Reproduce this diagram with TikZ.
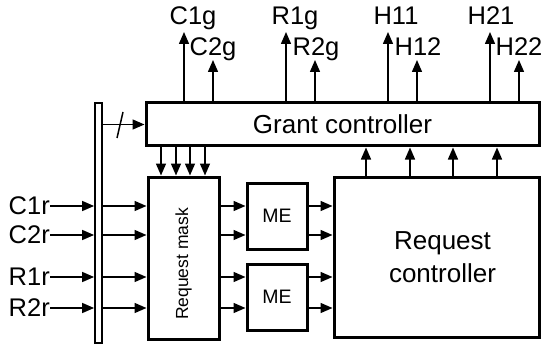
\documentclass[tikz,border=0pt]{standalone}
\usepackage{fontspec}
\setmainfont{Liberation Sans}
\usepackage{graphicx}
\usetikzlibrary{arrows.meta,calc}
\begin{document}
\begin{tikzpicture}[x=1pt,y=-1pt,
  box/.style={draw,line width=3pt,inner sep=0pt},
  arr/.style={line width=1.5pt,-{Triangle[length=12pt,width=10pt]}},
  big/.style={font=\fontsize{26}{33}\selectfont},
  lab/.style={font=\fontsize{25.5}{28}\selectfont,inner sep=0pt},
  small/.style={font=\fontsize{17.5}{20}\selectfont},
  metext/.style={font=\fontsize{19.5}{22}\selectfont}]
\useasboundingbox (0,0) rectangle (546,350);

% boxes
\node[box,minimum width=393pt,minimum height=43pt,big] (grant) at (342.5,124.5) {Grant controller};
\node[box,minimum width=71pt,minimum height=162pt,
      label={[small,inner sep=0pt]center:\rotatebox{90}{Request mask\hspace{12pt}}}] (mask) at (183.5,258) {};
\node[box,minimum width=60pt,minimum height=66pt,metext] (me1) at (277,216) {ME};
\node[box,minimum width=60pt,minimum height=66pt,metext] (me2) at (277,297) {ME};
\node[box,minimum width=205pt,minimum height=160pt,
      label={[big,align=center,xshift=6pt]center:Request\\controller}] (req) at (436.5,257) {};
\node[draw,line width=1.8pt,minimum width=7pt,minimum height=240pt,inner sep=0pt] (bus) at (98.5,223) {};

% output arrows and labels
\foreach \name/\x/\y/\lx/\ly in {C1g/184/32/193/25, C2g/213/60/213/56,
                                R1g/286/32/295/25, R2g/315/60/316/56,
                                H11/388/32/396/25, H12/417/60/418/56,
                                H21/490/32/491/25, H22/519/60/519/56}{
  \coordinate (\name) at (\x,\y);
  \node[lab,anchor=base] (\name-l) at (\lx,\ly) {\name};
  \draw[arr] (grant.north -| \name) -- (\name);
}

% grant -> mask
\foreach \x [count=\i] in {161,176,190,205}{
  \coordinate (dn\i) at (\x,0);
  \draw[arr] (grant.south -| dn\i) -- (mask.north -| dn\i);
}
% req -> grant
\foreach \x [count=\i] in {366,410,453,497}{
  \coordinate (up\i) at (\x,0);
  \draw[arr] (req.north -| up\i) -- (grant.south -| up\i);
}

% bus -> grant with slash
\draw[arr] (bus.east |- grant.west) -- (grant.west);
\draw[line width=1.5pt] (117,138) -- (123,112);

% inputs
\foreach \name/\y/\me in {C1r/206/me1, C2r/235/me1, R1r/277/me2, R2r/308/me2}{
  \node[lab,anchor=east] (\name) at (50,\y) {\name};
  \draw[arr] (\name.east) -- (\name.east -| bus.west);
  \draw[arr] (\name.east -| bus.east) -- (\name.east -| mask.west);
  \draw[arr] (\name.east -| mask.east) -- (\name.east -| \me.west);
  \draw[arr] (\name.east -| \me.east) -- (\name.east -| req.west);
}
\end{tikzpicture}
\end{document}
